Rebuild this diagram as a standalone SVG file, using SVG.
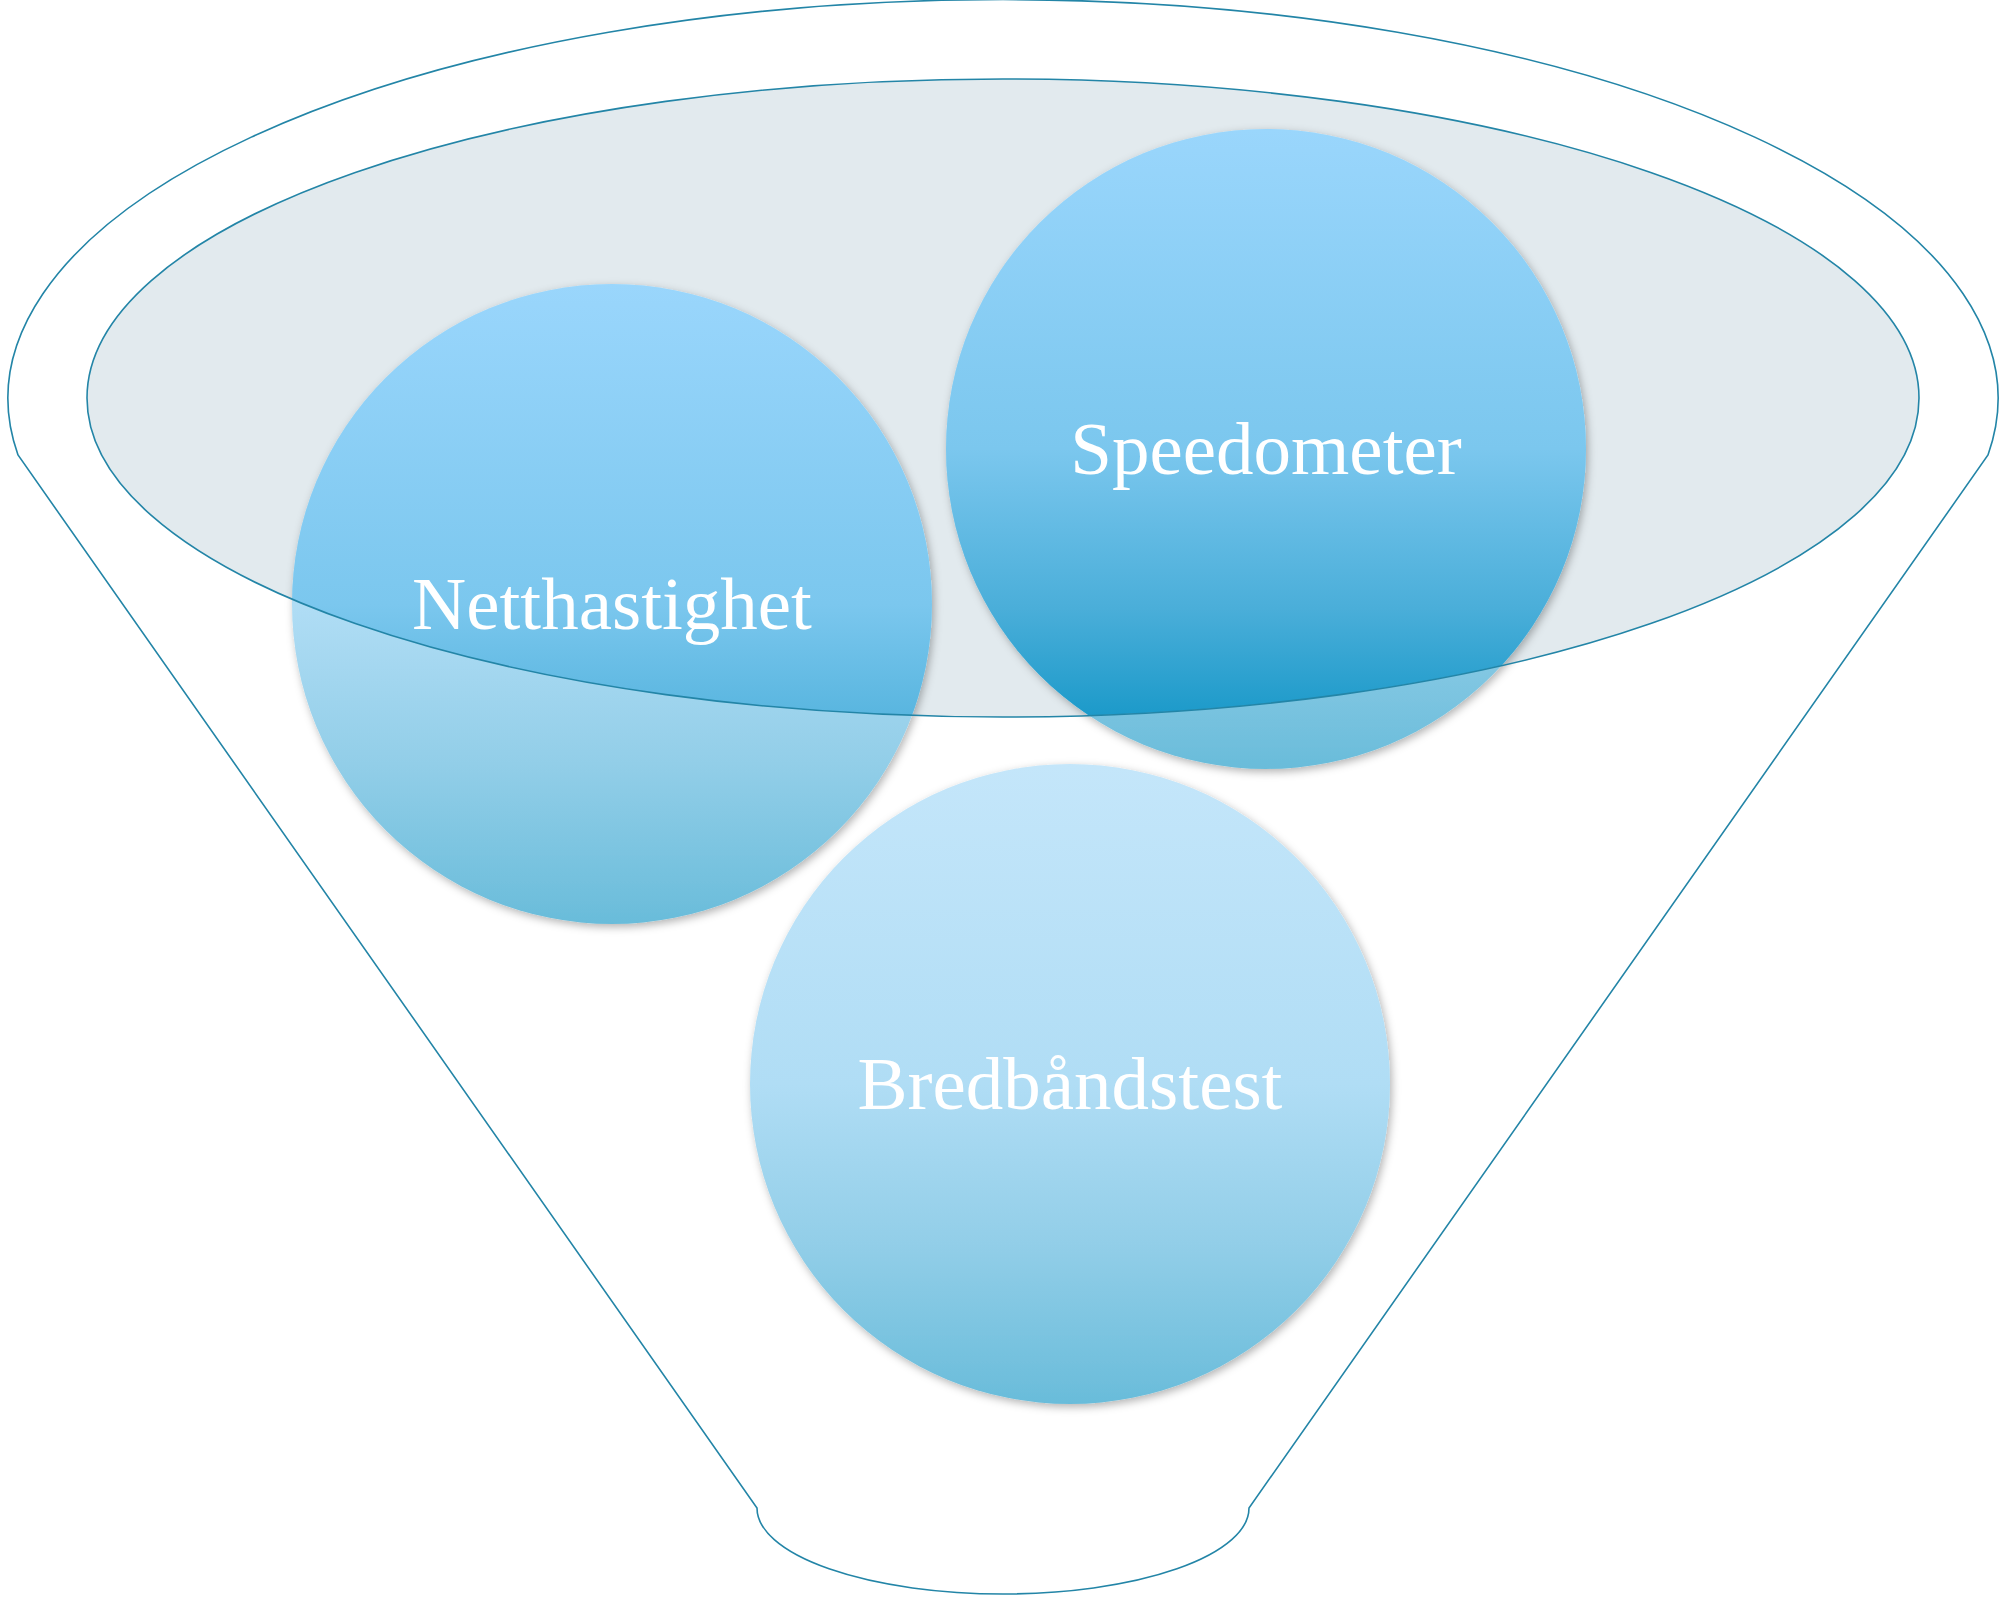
<svg xmlns="http://www.w3.org/2000/svg" width="2003" height="1599" viewBox="0 0 2003 1599">
  <defs>
    <style>
      .line { fill: none; stroke: #2385a7; stroke-width: 1.6; }
      .label { font-family: "Liberation Serif", "Times New Roman", serif; font-size: 75px; fill: #ffffff; text-anchor: middle; }
      .pale { fill: url(#paleGrad); }
      .sat { fill: url(#satGrad); }
    </style>
    <linearGradient id="satGrad" x1="0" y1="0" x2="0" y2="1">
      <stop offset="0" stop-color="#9ad6fc"/>
      <stop offset="0.5" stop-color="#7bc7ee"/>
      <stop offset="0.75" stop-color="#4aaed9"/>
      <stop offset="1" stop-color="#0590c2"/>
    </linearGradient>
    <linearGradient id="paleGrad" x1="0" y1="0" x2="0" y2="1">
      <stop offset="0" stop-color="#c4e6fa"/>
      <stop offset="0.5" stop-color="#b0ddf5"/>
      <stop offset="0.75" stop-color="#92cee8"/>
      <stop offset="1" stop-color="#69bcda"/>
    </linearGradient>
    <clipPath id="mouth">
      <ellipse cx="1003" cy="398" rx="916" ry="319"/>
    </clipPath>
    <filter id="shadow" x="-10%" y="-10%" width="120%" height="125%">
      <feDropShadow dx="2" dy="3" stdDeviation="4" flood-color="#000000" flood-opacity="0.3"/>
    </filter>
  </defs>

  <g id="funnel-mouth-fill">
    <ellipse cx="1003" cy="398" rx="916" ry="319" fill="#e2eaee"/>
  </g>

  <g id="node-netthastighet">
    <circle class="pale" cx="612" cy="604" r="320" filter="url(#shadow)"/>
    <circle class="sat" cx="612" cy="604" r="320" clip-path="url(#mouth)"/>
    <text class="label" x="612" y="629">Netthastighet</text>
  </g>

  <g id="node-speedometer">
    <circle class="pale" cx="1266" cy="449" r="320" filter="url(#shadow)"/>
    <circle class="sat" cx="1266" cy="449" r="320" clip-path="url(#mouth)"/>
    <text class="label" x="1266" y="474">Speedometer</text>
  </g>

  <g id="node-bredbandstest">
    <circle class="pale" cx="1070" cy="1084" r="320" filter="url(#shadow)"/>
    <text class="label" x="1070" y="1109">Bredbåndstest</text>
  </g>

  <g id="funnel-outline">
    <path class="line" d="M 18 455 A 995 399 0 1 1 1988 455 L 1249 1508 A 246 86 0 0 1 757 1508 Z"/>
    <ellipse class="line" cx="1003" cy="398" rx="916" ry="319"/>
  </g>

  <g id="connectors"></g>
</svg>
